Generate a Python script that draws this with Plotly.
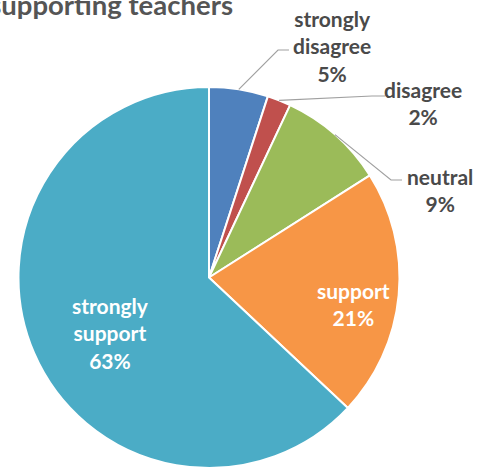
import math
import plotly.graph_objects as go

# Survey responses, clockwise from 12 o'clock
categories = ["strongly disagree", "disagree", "neutral", "support", "strongly support"]
shares = [5, 2, 9, 21, 63]
slice_colors = ["#4F81BD", "#C0504D", "#9BBB59", "#F79646", "#4BACC6"]
label_lines = [["strongly", "disagree"], ["disagree"], ["neutral"], ["support"], ["strongly", "support"]]

W, H = 483, 468
CX, CY, R = 209, 277.5, 190.5   # pie centre / radius in pixels


def px(x):
    return x / W


def py(y):
    return 1 - y / H


fig = go.Figure(go.Pie(
    labels=categories,
    values=shares,
    sort=False,
    direction="clockwise",
    rotation=0,
    marker=dict(colors=slice_colors, line=dict(color="white", width=2)),
    textinfo="none",
    hoverinfo="label+percent",
    showlegend=False,
    domain=dict(x=[px(CX - R), px(CX + R)], y=[py(CY + R), py(CY - R)]),
))

# label placement (pixel centres) and text colour per slice
label_pos = [(332, 46), (423, 103), (440, 190), (353, 304), (110, 333)]
label_col = ["#4A4A4A", "#4A4A4A", "#4A4A4A", "#FFFFFF", "#FFFFFF"]
# leader line elbows/ends for the outside labels
leaders = {0: [(278, 50), (289, 50)], 1: [(372, 96), (385, 96)], 2: [(391, 180), (402, 180)]}

total = sum(shares)
cum = 0
annotations = []
shapes = []
for i, v in enumerate(shares):
    mid = (cum + v / 2) / total * 2 * math.pi
    cum += v
    text = "<br>".join(label_lines[i] + [f"{v}%"])
    lx, ly = label_pos[i]
    annotations.append(dict(
        x=px(lx), y=py(ly), xref="paper", yref="paper",
        text=text, showarrow=False, xanchor="center", yanchor="middle",
        font=dict(family="Lato", size=21, color=label_col[i], weight="bold"),
    ))
    if i in leaders:
        sx = CX + R * math.sin(mid)
        sy = CY - R * math.cos(mid)
        pts = [(sx, sy)] + leaders[i]
        path = "M " + " L ".join(f"{px(x):.5f},{py(y):.5f}" for x, y in pts)
        shapes.append(dict(type="path", path=path, xref="paper", yref="paper",
                           line=dict(color="#A0A0A0", width=1.2)))

fig.update_layout(
    width=W, height=H,
    margin=dict(l=0, r=0, t=0, b=0),
    paper_bgcolor="white", plot_bgcolor="white",
    annotations=annotations, shapes=shapes,
    title=dict(
        text="supporting teachers",
        x=233 / W, xref="container", xanchor="right",
        y=1 - 5 / H, yref="container", yanchor="middle",
        font=dict(family="Lato", size=27.5, color="#555555", weight="bold"),
    ),
)

fig.write_html("out.html")
